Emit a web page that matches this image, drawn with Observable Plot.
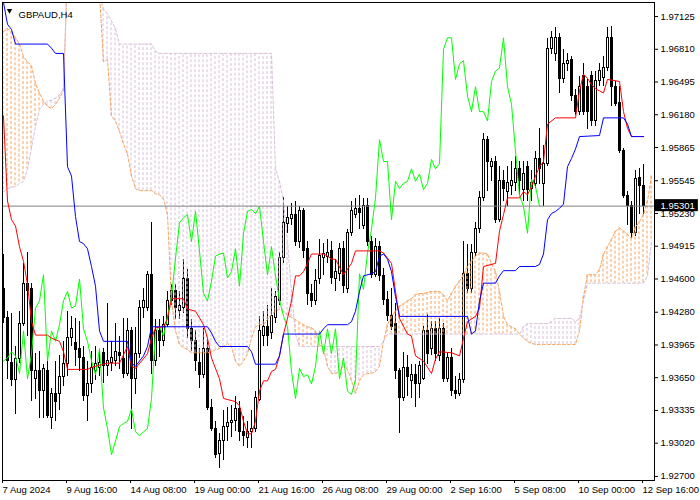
<!DOCTYPE html>
<html><head><meta charset="utf-8">
<script src="https://cdn.jsdelivr.net/npm/d3@7"></script>
<script src="https://cdn.jsdelivr.net/npm/@observablehq/plot@0.6"></script>
<style>body{margin:0;background:#fff;} #chart svg{display:block;}</style>
</head><body><div id="chart"></div>
<script>
// ---- data: GBPAUD H4, bars 0..160 (7 Aug 2024 00:00 -> 12 Sep 16:00) ----
const opens = [1.9450,1.9422,1.9379,1.9363,1.9383,1.9417,1.9455,1.9450,1.9364,1.9371,
1.9352,1.9371,1.9326,1.9349,1.9349,1.9366,1.9378,1.9403,1.9398,1.9393,
1.9384,1.9347,1.9359,1.9371,1.9374,1.9389,1.9376,1.9379,1.9381,1.9389,
1.9383,1.9369,1.9410,1.9364,1.9388,1.9432,1.9432,1.9464,1.9381,1.9410,
1.9400,1.9416,1.9439,1.9448,1.9429,1.9432,1.9460,1.9412,1.9400,1.9379,
1.9368,1.9393,1.9336,1.9316,1.9292,1.9304,1.9318,1.9321,1.9323,1.9335,
1.9313,1.9307,1.9313,1.9316,1.9344,1.9405,1.9414,1.9408,1.9422,1.9439,
1.9480,1.9513,1.9518,1.9522,1.9496,1.9525,1.9489,1.9446,1.9439,1.9460,
1.9480,1.9481,1.9487,1.9460,1.9465,1.9489,1.9450,1.9504,1.9522,1.9527,
1.9511,1.9530,1.9496,1.9464,1.9491,1.9463,1.9440,1.9424,1.9417,1.9371,
1.9345,1.9374,1.9362,1.9368,1.9359,1.9364,1.9410,1.9393,1.9412,1.9386,
1.9412,1.9364,1.9384,1.9352,1.9349,1.9363,1.9465,1.9450,1.9485,1.9508,
1.9538,1.9594,1.9568,1.9573,1.9517,1.9554,1.9544,1.9549,1.9552,1.9566,
1.9546,1.9568,1.9547,1.9551,1.9575,1.9551,1.9571,1.9681,1.9676,1.9692,
1.9652,1.9667,1.9671,1.9636,1.9621,1.9655,1.9645,1.9655,1.9612,1.9650,
1.9653,1.9663,1.9692,1.9645,1.9629,1.9583,1.9540,1.9530,1.9504,1.9557,
1.9549];
const highs = [1.9484,1.9429,1.9427,1.9395,1.9429,1.9475,1.9485,1.9456,1.9388,1.9390,
1.9378,1.9381,1.9355,1.9381,1.9386,1.9400,1.9429,1.9424,1.9422,1.9419,
1.9395,1.9381,1.9390,1.9395,1.9390,1.9393,1.9436,1.9400,1.9417,1.9405,
1.9422,1.9422,1.9413,1.9413,1.9439,1.9451,1.9467,1.9514,1.9421,1.9421,
1.9424,1.9448,1.9455,1.9455,1.9448,1.9479,1.9469,1.9421,1.9410,1.9393,
1.9412,1.9402,1.9344,1.9323,1.9311,1.9333,1.9336,1.9338,1.9347,1.9342,
1.9328,1.9323,1.9333,1.9352,1.9424,1.9429,1.9434,1.9451,1.9448,1.9485,
1.9538,1.9530,1.9533,1.9535,1.9530,1.9528,1.9496,1.9455,1.9469,1.9498,
1.9494,1.9498,1.9496,1.9479,1.9494,1.9496,1.9508,1.9535,1.9537,1.9540,
1.9537,1.9537,1.9501,1.9499,1.9496,1.9470,1.9448,1.9451,1.9436,1.9374,
1.9389,1.9386,1.9378,1.9378,1.9381,1.9414,1.9426,1.9419,1.9419,1.9422,
1.9417,1.9388,1.9393,1.9366,1.9369,1.9496,1.9493,1.9493,1.9514,1.9544,
1.9600,1.9597,1.9576,1.9578,1.9568,1.9564,1.9568,1.9573,1.9578,1.9573,
1.9573,1.9573,1.9564,1.9583,1.9605,1.9588,1.9691,1.9698,1.9702,1.9696,
1.9681,1.9677,1.9674,1.9642,1.9655,1.9667,1.9652,1.9660,1.9660,1.9667,
1.9674,1.9702,1.9703,1.9650,1.9645,1.9586,1.9544,1.9535,1.9564,1.9566,
1.9570];
const lows = [1.9417,1.9363,1.9357,1.9330,1.9379,1.9414,1.9405,1.9342,1.9344,1.9326,
1.9326,1.9326,1.9315,1.9323,1.9333,1.9357,1.9366,1.9395,1.9376,1.9371,
1.9342,1.9323,1.9350,1.9362,1.9366,1.9359,1.9366,1.9371,1.9376,1.9373,
1.9364,1.9366,1.9315,1.9349,1.9383,1.9422,1.9429,1.9368,1.9376,1.9384,
1.9395,1.9413,1.9434,1.9421,1.9421,1.9427,1.9403,1.9390,1.9371,1.9355,
1.9364,1.9333,1.9313,1.9287,1.9278,1.9285,1.9304,1.9307,1.9313,1.9304,
1.9299,1.9297,1.9297,1.9312,1.9342,1.9395,1.9395,1.9402,1.9417,1.9434,
1.9475,1.9504,1.9511,1.9491,1.9489,1.9480,1.9434,1.9433,1.9434,1.9455,
1.9463,1.9475,1.9455,1.9448,1.9458,1.9446,1.9446,1.9501,1.9518,1.9508,
1.9508,1.9491,1.9460,1.9461,1.9458,1.9434,1.9419,1.9410,1.9363,1.9311,
1.9342,1.9347,1.9345,1.9336,1.9345,1.9362,1.9378,1.9386,1.9381,1.9381,
1.9360,1.9360,1.9347,1.9344,1.9347,1.9359,1.9446,1.9446,1.9482,1.9504,
1.9535,1.9544,1.9554,1.9513,1.9514,1.9535,1.9530,1.9540,1.9544,1.9540,
1.9535,1.9535,1.9535,1.9547,1.9551,1.9530,1.9568,1.9676,1.9669,1.9638,
1.9648,1.9660,1.9631,1.9617,1.9617,1.9617,1.9604,1.9607,1.9607,1.9645,
1.9645,1.9660,1.9626,1.9626,1.9581,1.9537,1.9511,1.9499,1.9501,1.9522,
1.9522];
const closes = [1.9422,1.9381,1.9363,1.9383,1.9417,1.9455,1.9448,1.9371,1.9371,1.9352,
1.9373,1.9328,1.9349,1.9342,1.9366,1.9378,1.9403,1.9412,1.9392,1.9384,
1.9347,1.9359,1.9374,1.9378,1.9379,1.9376,1.9381,1.9384,1.9390,1.9386,
1.9369,1.9410,1.9364,1.9388,1.9432,1.9439,1.9464,1.9381,1.9410,1.9400,
1.9416,1.9439,1.9448,1.9432,1.9434,1.9460,1.9412,1.9400,1.9381,1.9368,
1.9393,1.9336,1.9316,1.9291,1.9304,1.9318,1.9321,1.9323,1.9335,1.9313,
1.9309,1.9313,1.9316,1.9345,1.9410,1.9414,1.9405,1.9424,1.9443,1.9480,
1.9514,1.9519,1.9522,1.9496,1.9525,1.9487,1.9446,1.9439,1.9458,1.9482,
1.9484,1.9485,1.9461,1.9467,1.9489,1.9453,1.9504,1.9525,1.9527,1.9523,
1.9530,1.9496,1.9464,1.9491,1.9463,1.9440,1.9424,1.9414,1.9371,1.9345,
1.9374,1.9366,1.9368,1.9359,1.9376,1.9410,1.9388,1.9412,1.9388,1.9412,
1.9364,1.9384,1.9352,1.9349,1.9363,1.9465,1.9450,1.9485,1.9508,1.9538,
1.9594,1.9573,1.9573,1.9517,1.9554,1.9547,1.9552,1.9554,1.9566,1.9554,
1.9561,1.9546,1.9552,1.9575,1.9566,1.9571,1.9681,1.9692,1.9692,1.9652,
1.9667,1.9670,1.9636,1.9621,1.9645,1.9621,1.9621,1.9612,1.9650,1.9660,
1.9663,1.9692,1.9645,1.9628,1.9583,1.9540,1.9530,1.9504,1.9556,1.9549,
1.95301];

// Ichimoku (9, 26, 52)
const tenkanBars = [0,1,2,3,4,5,6,7,8,11,12,14,15,16,21,22,26,29,31,32,33,36,37,38,40,41,42,45,46,48,50,51,52,54,55,58,59,60,61,62,63,64,65,66,67,68,69,70,71,72,73,74,75,76,77,80,81,82,83,85,87,88,94,95,97,98,99,101,102,103,105,107,108,109,112,114,115,116,118,119,120,123,124,125,126,129,130,131,132,133,134,135,136,138,143,144,145,146,147,148,149,150,151,154,155,156,157,160];
const tenkanVals = [1.9617,1.9535,1.9517,1.9511,1.9491,1.9477,1.9455,1.9419,1.9406,1.9406,1.9403,1.9400,1.9390,1.9373,1.9373,1.9375,1.9379,1.9379,1.9395,1.9376,1.9374,1.9388,1.9403,1.9413,1.9414,1.9422,1.9441,1.9441,1.9431,1.9429,1.9416,1.9403,1.9384,1.9364,1.9345,1.9342,1.9338,1.9323,1.9311,1.9311,1.9323,1.9352,1.9362,1.9362,1.9371,1.9373,1.9386,1.9407,1.9422,1.9439,1.9463,1.9463,1.9467,1.9475,1.9484,1.9484,1.9482,1.9479,1.9479,1.9464,1.9475,1.9487,1.9487,1.9485,1.9475,1.9448,1.9422,1.9407,1.9405,1.9386,1.9381,1.9369,1.9383,1.9390,1.9389,1.9386,1.9403,1.9419,1.9424,1.9432,1.9472,1.9475,1.9506,1.9522,1.9538,1.9538,1.9544,1.9541,1.9549,1.9559,1.9568,1.9573,1.9609,1.9615,1.9615,1.9641,1.9657,1.9653,1.9647,1.9643,1.9641,1.9639,1.9652,1.9650,1.9621,1.9605,1.9597,1.9597];
const kijunBars = [0,1,2,3,11,12,13,15,16,17,18,19,20,21,22,23,24,25,31,32,33,34,35,36,37,51,52,53,54,61,62,63,68,69,70,79,80,81,86,87,88,89,90,92,93,94,95,96,97,98,99,116,117,118,119,120,123,124,125,128,129,133,134,135,136,137,138,139,140,141,142,143,144,149,150,155,156,157,160];
const kijunVals = [1.9726,1.9705,1.9700,1.9686,1.9686,1.9682,1.9677,1.9677,1.9568,1.9559,1.9520,1.9496,1.9494,1.9489,1.9472,1.9453,1.9410,1.9400,1.9400,1.9379,1.9376,1.9381,1.9386,1.9395,1.9414,1.9414,1.9408,1.9400,1.9395,1.9395,1.9390,1.9378,1.9378,1.9386,1.9407,1.9407,1.9412,1.9416,1.9416,1.9419,1.9429,1.9448,1.9463,1.9465,1.9467,1.9482,1.9484,1.9479,1.9467,1.9443,1.9424,1.9424,1.9407,1.9410,1.9439,1.9456,1.9456,1.9463,1.9468,1.9468,1.9472,1.9472,1.9474,1.9484,1.9517,1.9523,1.9525,1.9528,1.9532,1.9568,1.9576,1.9585,1.9597,1.9598,1.9615,1.9615,1.9609,1.9597,1.9597];
// Senkou spans, bars 0..162 (already shifted forward; bars 16-23 lie above the window)
const spanA = [1.9698,1.9701,1.9698,1.9692,1.9686,1.9674,1.9669,1.9665,1.9648,1.9639,
1.9631,1.9626,1.9624,1.9628,1.9634,1.9641,1.9760,1.9760,1.9760,1.9760,
1.9760,1.9760,1.9760,1.9760,1.9735,1.9669,1.9671,1.9617,1.9612,1.9602,
1.9590,1.9580,1.9559,1.9547,1.9545,1.9545,1.9545,1.9545,1.9542,1.9541,
1.9537,1.9522,1.9439,1.9410,1.9397,1.9394,1.9392,1.9389,1.9389,1.9389,
1.9389,1.9389,1.9390,1.9392,1.9393,1.9395,1.9398,1.9395,1.9381,1.9376,
1.9381,1.9388,1.9403,1.9414,1.9416,1.9416,1.9421,1.9426,1.9429,1.9431,
1.9429,1.9425,1.9423,1.9421,1.9418,1.9416,1.9414,1.9413,1.9410,1.9397,
1.9393,1.9376,1.9369,1.9369,1.9371,1.9376,1.9373,1.9362,1.9350,1.9362,
1.9368,1.9369,1.9369,1.9371,1.9376,1.9400,1.9416,1.9424,1.9429,1.9434,
1.9436,1.9439,1.9441,1.9445,1.9446,1.9446,1.9447,1.9448,1.9448,1.9448,
1.9445,1.9439,1.9446,1.9453,1.9458,1.9464,1.9472,1.9477,1.9482,1.9485,
1.9485,1.9484,1.9475,1.9467,1.9448,1.9424,1.9416,1.9414,1.9412,1.9407,
1.9403,1.9400,1.9398,1.9397,1.9397,1.9397,1.9397,1.9397,1.9397,1.9397,
1.9397,1.9397,1.9397,1.9397,1.9410,1.9443,1.9464,1.9464,1.9464,1.9469,
1.9484,1.9491,1.9498,1.9506,1.9509,1.9506,1.9503,1.9499,1.9510,1.9515,
1.9522,1.9535,1.9559];
const spanB = [1.9544,1.9547,1.9548,1.9549,1.9552,1.9554,1.9566,1.9586,1.9607,1.9623,
1.9628,1.9631,1.9632,1.9634,1.9637,1.9643,1.9760,1.9760,1.9760,1.9760,
1.9760,1.9760,1.9760,1.9760,1.9731,1.9720,1.9715,1.9708,1.9701,1.9686,
1.9686,1.9686,1.9686,1.9686,1.9686,1.9686,1.9686,1.9686,1.9679,1.9677,
1.9677,1.9677,1.9677,1.9677,1.9677,1.9677,1.9677,1.9677,1.9677,1.9677,
1.9677,1.9677,1.9677,1.9677,1.9677,1.9677,1.9677,1.9677,1.9677,1.9677,
1.9677,1.9677,1.9677,1.9677,1.9677,1.9677,1.9677,1.9677,1.9566,1.9554,
1.9535,1.9496,1.9448,1.9407,1.9395,1.9395,1.9395,1.9395,1.9395,1.9395,
1.9395,1.9395,1.9395,1.9395,1.9395,1.9395,1.9395,1.9395,1.9395,1.9395,
1.9395,1.9395,1.9395,1.9395,1.9395,1.9400,1.9407,1.9407,1.9407,1.9407,
1.9407,1.9407,1.9407,1.9407,1.9407,1.9407,1.9407,1.9407,1.9407,1.9407,
1.9407,1.9407,1.9407,1.9407,1.9407,1.9407,1.9407,1.9407,1.9407,1.9407,
1.9407,1.9407,1.9407,1.9407,1.9407,1.9407,1.9407,1.9407,1.9407,1.9407,
1.9414,1.9417,1.9417,1.9417,1.9417,1.9417,1.9417,1.9419,1.9422,1.9422,
1.9422,1.9422,1.9422,1.9419,1.9422,1.9439,1.9456,1.9456,1.9456,1.9456,
1.9456,1.9456,1.9456,1.9456,1.9456,1.9456,1.9456,1.9456,1.9456,1.9456,
1.9456,1.9463,1.9496];
const chikouShift = 26;

const tickBars = [0,16,32,48,64,80,96,112,128,144,160];
const tickLabels = ["7 Aug 2024","9 Aug 16:00","14 Aug 08:00","19 Aug 00:00","21 Aug 16:00","26 Aug 08:00","29 Aug 00:00","2 Sep 16:00","5 Sep 08:00","10 Sep 00:00","12 Sep 16:00"];
const priceTicks = [1.97125,1.96810,1.96495,1.96180,1.95865,1.95545,1.95230,1.94915,1.94600,1.94280,1.93965,1.93650,1.93335,1.93020,1.92700];
const lastPrice = 1.95301;
const symbolLabel = "GBPAUD,H4";
const xDomain = [-0.25, 162.75];
const yDomain = [1.92661, 1.97260];

// ---- build ----
const candles = opens.map((o, i) => ({i, o, h: highs[i], l: lows[i], c: closes[i]}));
const bulls = candles.filter(d => d.c >= d.o);
const bears = candles.filter(d => d.c < d.o);
const cloud = spanA.map((a, i) => ({i, a, b: spanB[i]}));
const cloudUp = cloud.filter(d => d.a >= d.b);
const cloudDown = cloud.filter(d => d.a < d.b);
const chikou = closes.slice(chikouShift).map((c, k) => ({i: k, c}));
const tenkan = tenkanBars.map((b, k) => ({i: b, v: tenkanVals[k]}));
const kijun = kijunBars.map((b, k) => ({i: b, v: kijunVals[k]}));
const half = 0.25;
const SANDY = "#f4a460", THISTLE = "#d8bfd8";

const chart = Plot.plot({
  width: 700, height: 500,
  marginTop: 2, marginRight: 46, marginBottom: 20, marginLeft: 2,
  x: {domain: xDomain},
  y: {domain: yDomain},
  style: {fontFamily: "'Liberation Sans', Arial, sans-serif", fontSize: "9.5px", background: "#fff", color: "#000"},
  marks: [
    Plot.ruleX(candles, {x: "i", y1: "l", y2: "h", stroke: "#000", strokeWidth: 1, clip: true, shapeRendering: "crispEdges"}),
    Plot.rect(bulls, {x1: d => d.i - half, x2: d => d.i + half, y1: "o", y2: "c",
      fill: "#fff", stroke: "#000", strokeWidth: 1, clip: true, shapeRendering: "crispEdges"}),
    Plot.rect(bears, {x1: d => d.i - half, x2: d => d.i + half, y1: "o", y2: "c",
      fill: "#000", stroke: "#000", strokeWidth: 1, clip: true, shapeRendering: "crispEdges"}),
    Plot.ruleX(cloudUp, {x: "i", y1: "a", y2: "b", dx: -0.5, stroke: SANDY, strokeWidth: 1, strokeDasharray: "3,2", clip: true}),
    Plot.ruleX(cloudDown, {x: "i", y1: "a", y2: "b", dx: -0.5, stroke: THISTLE, strokeWidth: 1, strokeDasharray: "3,2", clip: true}),
    Plot.line(cloud, {x: "i", y: "a", stroke: SANDY, strokeWidth: 1, strokeDasharray: "3,2", clip: true}),
    Plot.line(cloud, {x: "i", y: "b", stroke: THISTLE, strokeWidth: 1, strokeDasharray: "3,2", clip: true}),
    Plot.ruleY([lastPrice], {stroke: "#808080", strokeWidth: 1}),
    Plot.line(chikou, {x: "i", y: "c", stroke: "#00ff00", strokeWidth: 1, clip: true}),
    Plot.line(tenkan, {x: "i", y: "v", stroke: "#ff0000", strokeWidth: 1, clip: true}),
    Plot.line(kijun, {x: "i", y: "v", stroke: "#0000ff", strokeWidth: 1, clip: true}),
    Plot.frame({stroke: "#000"}),
    Plot.axisX(tickBars, {anchor: "bottom", tickSize: 3, tickPadding: 3, textAnchor: "start", dx: -1,
      tickFormat: d => tickLabels[tickBars.indexOf(d)], label: null}),
    Plot.axisY(priceTicks, {anchor: "right", tickSize: 3, tickPadding: 3, tickFormat: d => d.toFixed(5), label: null}),
    Plot.text([lastPrice], {y: d => d, text: d => d.toFixed(5), frameAnchor: "right", dx: 6, textAnchor: "start", fill: "#fff"}),
    Plot.dot([symbolLabel], {frameAnchor: "top-left", dx: 7, dy: 8, symbol: "triangle2", r: 2.6, fill: "#000", rotate: 180}),
    Plot.text([symbolLabel], {frameAnchor: "top-left", dx: 16, dy: 9, textAnchor: "start", fill: "#000", text: d => d})
  ]
});
document.getElementById("chart").appendChild(chart);

// black box behind the last-price label
d3.select(chart).selectAll("text").filter(function(){ return this.textContent === lastPrice.toFixed(5); })
  .each(function(){
    const bb = this.getBBox();
    const r = document.createElementNS("http://www.w3.org/2000/svg", "rect");
    r.setAttribute("x", bb.x - 6); r.setAttribute("y", bb.y - 1);
    r.setAttribute("width", bb.width + 9); r.setAttribute("height", bb.height + 1);
    r.setAttribute("fill", "#000");
    const t = this.getAttribute("transform"); if (t) r.setAttribute("transform", t);
    this.parentNode.insertBefore(r, this);
  });
</script>
</body></html>
